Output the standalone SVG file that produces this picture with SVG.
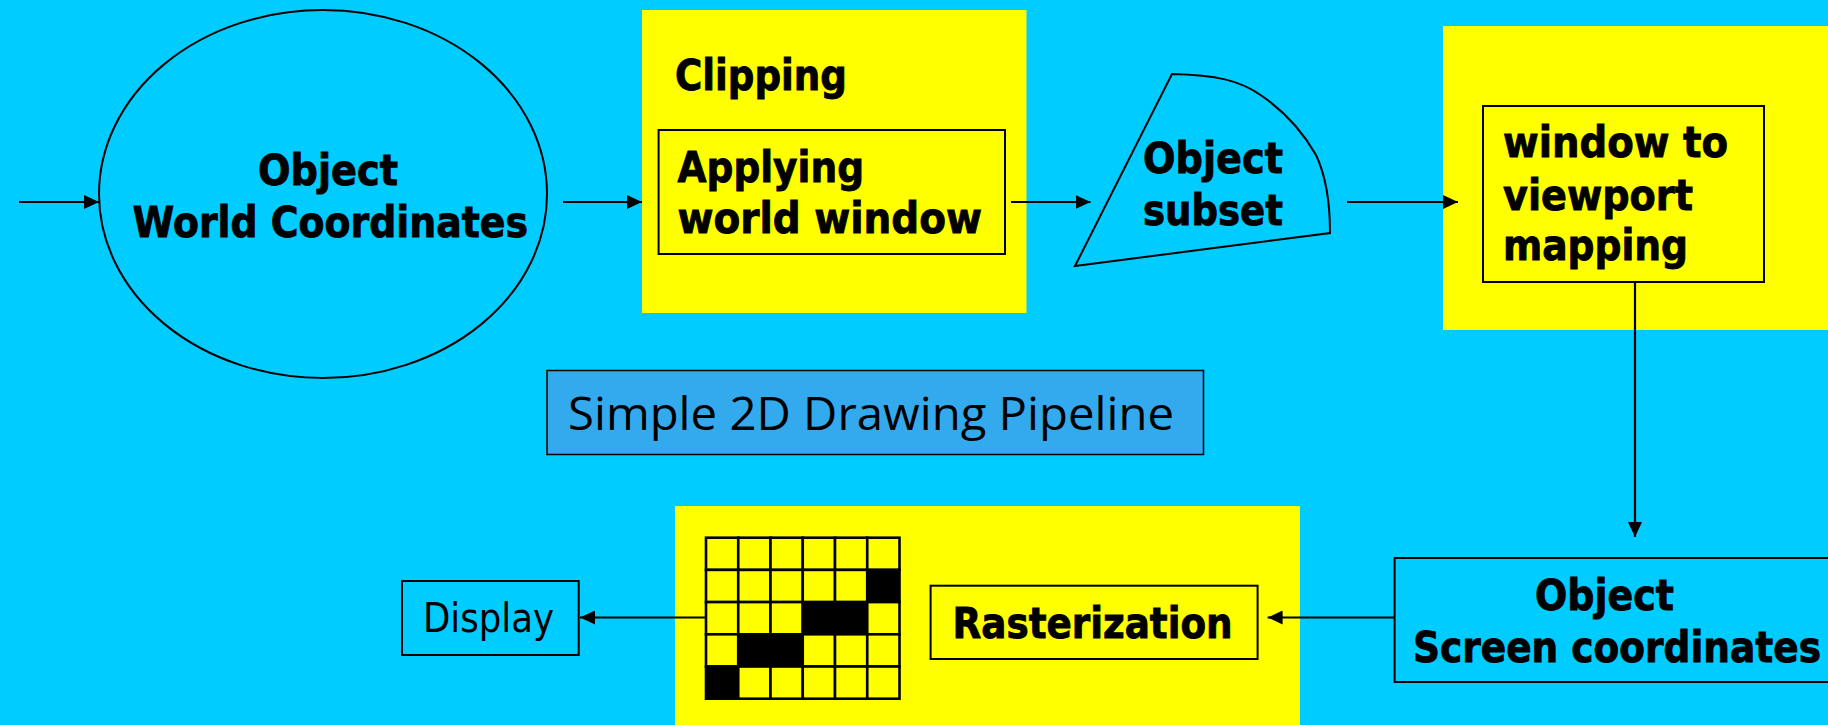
<svg xmlns="http://www.w3.org/2000/svg" width="1828" height="725" viewBox="0 0 1828 725">
  <style>
    .bg { fill: #00ccff; }
    .panel { fill: #ffff00; }
    .box { stroke: #000; stroke-width: 2; }
    .lbl { font-family: "DejaVu Sans", Verdana, sans-serif; font-weight: bold; font-size: 43px; fill: #000; stroke: #000; stroke-width: 0.9; }
    .reg { font-family: "DejaVu Sans", Verdana, sans-serif; font-size: 40px; fill: #000; }
    .title { font-family: "Open Sans", Lato, sans-serif; font-size: 46px; fill: #000; }
    .wire { stroke: #000; stroke-width: 2.2; fill: none; }
    .cell { fill: #ffff00; stroke: #000; stroke-width: 2.6; }
    .on { fill: #000; }
  </style>
  <defs>
    <marker id="arrow" markerUnits="userSpaceOnUse" markerWidth="16" markerHeight="14" refX="15" refY="7" orient="auto">
      <path d="M0,0 L15,7 L0,14 Z" fill="#000"/>
    </marker>
  </defs>

  <rect class="bg" x="0" y="0" width="1828" height="725"/>

  <!-- world-coordinate object -->
  <g id="node-world">
    <ellipse cx="323" cy="194" rx="224" ry="184" fill="#00ccff" class="box"/>
    <text class="lbl" x="328" y="185" text-anchor="middle" textLength="140" lengthAdjust="spacingAndGlyphs">Object</text>
    <text class="lbl" x="132.5" y="237" textLength="395.5" lengthAdjust="spacingAndGlyphs">World Coordinates</text>
  </g>

  <!-- clipping stage -->
  <g id="node-clipping">
    <rect class="panel" x="642" y="10" width="384.5" height="303"/>
    <text class="lbl" x="675" y="90" font-size="41" textLength="172" lengthAdjust="spacingAndGlyphs">Clipping</text>
    <rect x="658.6" y="130" width="346.4" height="124" fill="#ffff00" class="box"/>
    <text class="lbl" x="677.5" y="182" font-size="41" textLength="186.5" lengthAdjust="spacingAndGlyphs">Applying</text>
    <text class="lbl" x="677.5" y="233" font-size="41" textLength="304.5" lengthAdjust="spacingAndGlyphs">world window</text>
  </g>

  <!-- clipped subset -->
  <g id="node-subset">
    <path d="M1172,74 C1215,75 1240,80 1262,96 C1285,112 1304,134 1316,155 C1326,176 1330,200 1330,233 L1075,266 Z" fill="#00ccff" class="box"/>
    <text class="lbl" x="1143" y="173" textLength="140" lengthAdjust="spacingAndGlyphs">Object</text>
    <text class="lbl" x="1143" y="225" textLength="140" lengthAdjust="spacingAndGlyphs">subset</text>
  </g>

  <!-- window to viewport stage -->
  <g id="node-mapping">
    <rect class="panel" x="1443" y="26" width="390" height="304"/>
    <rect x="1483" y="106" width="281" height="176" fill="#ffff00" class="box"/>
    <text class="lbl" x="1503" y="157" font-size="42" textLength="225" lengthAdjust="spacingAndGlyphs">window to</text>
    <text class="lbl" x="1503" y="210" font-size="42" textLength="190" lengthAdjust="spacingAndGlyphs">viewport</text>
    <text class="lbl" x="1503" y="260" font-size="42" textLength="185" lengthAdjust="spacingAndGlyphs">mapping</text>
  </g>

  <!-- caption -->
  <g id="node-title">
    <rect x="547" y="370.5" width="656.5" height="84" fill="#33aaee" stroke="#000" stroke-width="1.5"/>
    <text class="title" x="568" y="430" textLength="606" lengthAdjust="spacingAndGlyphs">Simple 2D Drawing Pipeline</text>
  </g>

  <!-- screen-coordinate object -->
  <g id="node-screen">
    <rect x="1394.6" y="558" width="440" height="124" fill="#00ccff" class="box"/>
    <text class="lbl" x="1535" y="610" textLength="139" lengthAdjust="spacingAndGlyphs">Object</text>
    <text class="lbl" x="1413" y="662" textLength="408" lengthAdjust="spacingAndGlyphs">Screen coordinates</text>
  </g>

  <!-- rasterization stage -->
  <g id="node-raster">
    <rect class="panel" x="675" y="506" width="625" height="222"/>
    <g id="pixel-grid">
      <rect class="cell" x="706" y="537.7" width="32.25" height="32.2"/>
      <rect class="cell" x="738.25" y="537.7" width="32.25" height="32.2"/>
      <rect class="cell" x="770.5" y="537.7" width="32.25" height="32.2"/>
      <rect class="cell" x="802.75" y="537.7" width="32.25" height="32.2"/>
      <rect class="cell" x="835" y="537.7" width="32.25" height="32.2"/>
      <rect class="cell" x="867.25" y="537.7" width="32.25" height="32.2"/>

      <rect class="cell" x="706" y="569.9" width="32.25" height="32.2"/>
      <rect class="cell" x="738.25" y="569.9" width="32.25" height="32.2"/>
      <rect class="cell" x="770.5" y="569.9" width="32.25" height="32.2"/>
      <rect class="cell" x="802.75" y="569.9" width="32.25" height="32.2"/>
      <rect class="cell" x="835" y="569.9" width="32.25" height="32.2"/>
      <rect class="cell on" x="867.25" y="569.9" width="32.25" height="32.2"/>

      <rect class="cell" x="706" y="602.1" width="32.25" height="32.2"/>
      <rect class="cell" x="738.25" y="602.1" width="32.25" height="32.2"/>
      <rect class="cell" x="770.5" y="602.1" width="32.25" height="32.2"/>
      <rect class="cell on" x="802.75" y="602.1" width="32.25" height="32.2"/>
      <rect class="cell on" x="835" y="602.1" width="32.25" height="32.2"/>
      <rect class="cell" x="867.25" y="602.1" width="32.25" height="32.2"/>

      <rect class="cell" x="706" y="634.3" width="32.25" height="32.2"/>
      <rect class="cell on" x="738.25" y="634.3" width="32.25" height="32.2"/>
      <rect class="cell on" x="770.5" y="634.3" width="32.25" height="32.2"/>
      <rect class="cell" x="802.75" y="634.3" width="32.25" height="32.2"/>
      <rect class="cell" x="835" y="634.3" width="32.25" height="32.2"/>
      <rect class="cell" x="867.25" y="634.3" width="32.25" height="32.2"/>

      <rect class="cell on" x="706" y="666.5" width="32.25" height="32.2"/>
      <rect class="cell" x="738.25" y="666.5" width="32.25" height="32.2"/>
      <rect class="cell" x="770.5" y="666.5" width="32.25" height="32.2"/>
      <rect class="cell" x="802.75" y="666.5" width="32.25" height="32.2"/>
      <rect class="cell" x="835" y="666.5" width="32.25" height="32.2"/>
      <rect class="cell" x="867.25" y="666.5" width="32.25" height="32.2"/>
    </g>
    <rect x="930.6" y="585.7" width="327" height="73.3" fill="#ffff00" class="box"/>
    <text class="lbl" x="952.6" y="638" textLength="280" lengthAdjust="spacingAndGlyphs">Rasterization</text>
  </g>

  <!-- display output -->
  <g id="node-display">
    <rect x="402" y="581" width="176.7" height="74" fill="#00ccff" class="box"/>
    <text class="reg" x="423" y="632" textLength="131" lengthAdjust="spacingAndGlyphs">Display</text>
  </g>

  <!-- connectors -->
  <g id="connectors">
    <line class="wire" x1="19" y1="202" x2="99" y2="202" marker-end="url(#arrow)"/>
    <line class="wire" x1="563" y1="202" x2="642" y2="202" marker-end="url(#arrow)"/>
    <line class="wire" x1="1011" y1="202" x2="1090.5" y2="202" marker-end="url(#arrow)"/>
    <line class="wire" x1="1347" y1="202" x2="1458" y2="202" marker-end="url(#arrow)"/>
    <line class="wire" x1="1635" y1="282" x2="1635" y2="537" marker-end="url(#arrow)"/>
    <line class="wire" x1="1394.6" y1="617.5" x2="1267.6" y2="617.5" marker-end="url(#arrow)"/>
    <line class="wire" x1="706" y1="617.5" x2="580" y2="617.5" marker-end="url(#arrow)"/>
  </g>
</svg>
